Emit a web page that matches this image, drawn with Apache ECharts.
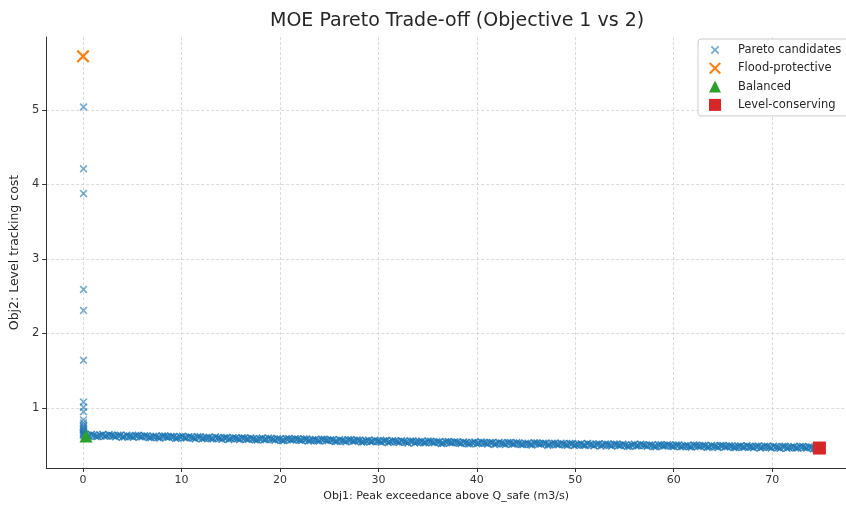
<!DOCTYPE html>
<html>
<head>
<meta charset="utf-8">
<script src="https://cdn.jsdelivr.net/npm/echarts@6/dist/echarts.min.js"></script>
<style>
html,body{margin:0;padding:0;background:#fff;}
#chart{width:846px;height:508px;}
</style>
</head>
<body>
<div id="chart"></div>
<script>
// ---------- data ----------
var titleText = 'MOE Pareto Trade-off (Objective 1 vs 2)';
var xLabel = 'Obj1: Peak exceedance above Q_safe (m3/s)';
var yLabel = 'Obj2: Level tracking cost';
var xTicks = [0, 10, 20, 30, 40, 50, 60, 70];
var yTicks = [1, 2, 3, 4, 5];
var legendNames = ['Pareto candidates', 'Flood-protective', 'Balanced', 'Level-conserving'];

// vertical cluster of candidates at Obj1 ~ 0
var clusterX = [0.05,0.05,0.05,0.05,0.05,0.05,0.05,0.05,0.05,0.05,0.05,0.05,0.05,0.05,0.05,0.05,0.05,0.05,0.05,0.05,0.05,0.05];
var clusterY = [5.04,4.21,3.88,2.59,2.31,1.64,1.08,1.01,0.95,0.84,0.80,0.77,0.75,0.73,0.71,0.70,0.68,0.67,0.66,0.65,0.64,0.63];

// main band of candidates (first pass)
var bandX = [0.2,0.6,1.1,1.5,2.0,2.4,2.9,3.3,3.8,4.2,4.7,5.1,5.6,6.0,6.5,6.9,7.4,7.8,8.3,8.7,9.2,9.6,
10.1,10.5,11.0,11.4,11.9,12.3,12.8,13.2,13.7,14.1,14.6,15.0,15.5,15.9,16.4,16.8,17.3,17.7,18.2,18.6,19.1,19.5,
20.0,20.4,20.9,21.3,21.8,22.2,22.7,23.1,23.6,24.0,24.5,24.9,25.4,25.8,26.3,26.7,27.2,27.6,28.1,28.5,29.0,29.4,29.9,
30.3,30.8,31.2,31.7,32.1,32.6,33.0,33.5,33.9,34.4,34.8,35.3,35.7,36.2,36.6,37.1,37.5,38.0,38.4,38.9,39.3,39.8,
40.2,40.7,41.1,41.6,42.0,42.5,42.9,43.4,43.8,44.3,44.7,45.2,45.6,46.1,46.5,47.0,47.4,47.9,48.3,48.8,49.2,49.7,
50.1,50.6,51.0,51.5,51.9,52.4,52.8,53.3,53.7,54.2,54.6,55.1,55.5,56.0,56.4,56.9,57.3,57.8,58.2,58.7,59.1,59.6,
60.0,60.5,60.9,61.4,61.8,62.3,62.7,63.2,63.6,64.1,64.5,65.0,65.4,65.9,66.3,66.8,67.2,67.7,68.1,68.6,69.0,69.5,69.9,
70.4,70.8,71.3,71.7,72.2,72.6,73.1,73.5,74.0,74.4];
var bandY = [0.646,0.623,0.636,0.617,0.644,0.625,0.634,0.613,0.635,0.615,0.623,0.607,0.632,0.612,0.625,0.603,0.619,0.597,0.623,0.607,0.617,0.597,
0.621,0.598,0.609,0.588,0.612,0.595,0.606,0.585,0.600,0.580,0.605,0.588,0.598,0.577,0.597,0.580,0.588,0.571,0.596,0.576,0.589,0.568,
0.584,0.562,0.588,0.573,0.583,0.563,0.584,0.564,0.576,0.555,0.579,0.562,0.573,0.552,0.567,0.547,0.573,0.556,0.566,0.545,0.566,0.549,0.556,
0.539,0.565,0.545,0.558,0.537,0.553,0.531,0.557,0.542,0.553,0.533,0.554,0.534,0.546,0.525,0.549,0.532,0.544,0.523,0.538,0.518,0.543,
0.527,0.537,0.516,0.537,0.520,0.528,0.511,0.537,0.517,0.530,0.510,0.526,0.504,0.530,0.515,0.526,0.506,0.527,0.507,0.519,0.499,0.523,
0.506,0.518,0.497,0.512,0.493,0.519,0.502,0.512,0.491,0.512,0.496,0.504,0.487,0.513,0.493,0.506,0.486,0.502,0.480,0.506,0.492,0.503,
0.483,0.504,0.484,0.497,0.476,0.500,0.483,0.496,0.475,0.490,0.470,0.496,0.480,0.490,0.469,0.490,0.474,0.482,0.465,0.491,0.472,0.485,0.464,
0.480,0.459,0.485,0.470,0.481,0.462,0.483,0.463,0.475,0.457];

// main band of candidates (second pass)
var band2X = [0.4,0.85,1.3,1.75,2.2,2.65,3.1,3.55,4.0,4.45,4.9,5.35,5.8,6.25,6.7,7.15,7.6,8.05,8.5,8.95,9.4,9.85,
10.3,10.75,11.2,11.65,12.1,12.55,13.0,13.45,13.9,14.35,14.8,15.25,15.7,16.15,16.6,17.05,17.5,17.95,18.4,18.85,19.3,19.75,
20.2,20.65,21.1,21.55,22.0,22.45,22.9,23.35,23.8,24.25,24.7,25.15,25.6,26.05,26.5,26.95,27.4,27.85,28.3,28.75,29.2,29.65,
30.1,30.55,31.0,31.45,31.9,32.35,32.8,33.25,33.7,34.15,34.6,35.05,35.5,35.95,36.4,36.85,37.3,37.75,38.2,38.65,39.1,39.55,
40.0,40.45,40.9,41.35,41.8,42.25,42.7,43.15,43.6,44.05,44.5,44.95,45.4,45.85,46.3,46.75,47.2,47.65,48.1,48.55,49.0,49.45,49.9,
50.35,50.8,51.25,51.7,52.15,52.6,53.05,53.5,53.95,54.4,54.85,55.3,55.75,56.2,56.65,57.1,57.55,58.0,58.45,58.9,59.35,59.8,
60.25,60.7,61.15,61.6,62.05,62.5,62.95,63.4,63.85,64.3,64.75,65.2,65.65,66.1,66.55,67.0,67.45,67.9,68.35,68.8,69.25,69.7,
70.15,70.6,71.05,71.5,71.95,72.4,72.85,73.3,73.75,74.2,74.65];
var band2Y = [0.628,0.643,0.618,0.634,0.619,0.641,0.624,0.632,0.608,0.632,0.616,0.631,0.612,0.627,0.602,0.618,0.603,0.625,0.608,0.616,0.592,0.615,
0.600,0.615,0.596,0.612,0.586,0.602,0.588,0.610,0.592,0.601,0.577,0.601,0.586,0.600,0.581,0.597,0.572,0.588,0.573,0.595,0.578,0.587,
0.563,0.586,0.571,0.586,0.567,0.583,0.558,0.574,0.559,0.581,0.564,0.573,0.549,0.573,0.558,0.573,0.554,0.569,0.544,0.560,0.546,0.568,
0.551,0.560,0.536,0.560,0.545,0.560,0.541,0.557,0.531,0.547,0.533,0.555,0.538,0.547,0.523,0.547,0.532,0.547,0.528,0.544,0.519,0.535,
0.521,0.543,0.526,0.535,0.511,0.536,0.521,0.536,0.517,0.533,0.508,0.524,0.510,0.532,0.515,0.525,0.501,0.525,0.510,0.525,0.506,0.522,0.497,
0.513,0.500,0.522,0.505,0.514,0.490,0.515,0.500,0.515,0.496,0.512,0.487,0.504,0.490,0.512,0.495,0.504,0.481,0.505,0.490,0.505,0.486,
0.503,0.478,0.494,0.480,0.503,0.486,0.495,0.471,0.495,0.481,0.496,0.477,0.493,0.469,0.485,0.471,0.493,0.476,0.485,0.462,0.486,0.471,
0.487,0.468,0.484,0.460,0.476,0.462,0.484,0.468,0.477,0.453,0.477];

var floodPoint = [0.0, 5.72];
var balancedPoint = [0.3, 0.625];
var levelPoint = [74.8, 0.462];

// ---------- build ----------
var clusterData = [];
for (var i = 0; i < clusterX.length; i++) clusterData.push([clusterX[i], clusterY[i]]);
var bandData = [];
for (var j = 0; j < bandX.length; j++) bandData.push([bandX[j], bandY[j]]);
for (var k = 0; k < band2X.length; k++) bandData.push([band2X[k], band2Y[k]]);

var xPath = 'path://M0,1.2L1.2,0L5,3.8L8.8,0L10,1.2L6.2,5L10,8.8L8.8,10L5,6.2L1.2,10L0,8.8L3.8,5Z';
var xPathThick = 'path://M0,1.5L1.5,0L5,3.5L8.5,0L10,1.5L6.5,5L10,8.5L8.5,10L5,6.5L1.5,10L0,8.5L3.5,5Z';
var xPathSmall = 'path://M-2,-2L-2,-2M12,12L12,12M0,1.5L1.5,0L5,3.5L8.5,0L10,1.5L6.5,5L10,8.5L8.5,10L5,6.5L1.5,10L0,8.5L3.5,5Z';
var font = 'DejaVu Sans';
var gridLine = {show: true, lineStyle: {color: '#d2d2d2', width: 0.8, type: [3, 2]}};

var chart = echarts.init(document.getElementById('chart'), null, {renderer: 'canvas'});
chart.setOption({
  animation: false,
  backgroundColor: '#ffffff',
  title: {
    text: titleText, left: 265, top: 7,
    textStyle: {fontFamily: font, fontSize: 19, fontWeight: 'normal', color: '#262626'}
  },
  grid: {left: 46, right: 0, top: 37, bottom: 40, containLabel: false},
  legend: {
    orient: 'vertical', left: 698, top: 39,
    padding: [5, 8, 5, 11],
    itemWidth: 12, itemHeight: 12, itemGap: 6.3,
    backgroundColor: '#ffffff', borderColor: '#cccccc', borderWidth: 1, borderRadius: 3,
    textStyle: {fontFamily: font, fontSize: 11.5, color: '#262626', padding: [0, 0, 0, 12]},
    data: [
      {name: legendNames[0], icon: xPathSmall, itemStyle: {color: 'rgba(31,119,180,0.6)', opacity: 1}},
      {name: legendNames[1], icon: xPath, itemStyle: {opacity: 1}},
      {name: legendNames[2], icon: 'triangle', itemStyle: {opacity: 1}},
      {name: legendNames[3], icon: 'rect', itemStyle: {opacity: 1}}
    ]
  },
  xAxis: {
    type: 'value', min: -3.74, max: 77.5,
    name: xLabel, nameLocation: 'middle', nameGap: 21,
    nameTextStyle: {fontFamily: font, fontSize: 11, color: '#262626'},
    axisLine: {show: true, onZero: false, lineStyle: {color: '#333333', width: 1}},
    axisTick: {show: true, customValues: xTicks, length: 4, lineStyle: {color: '#333333'}},
    axisLabel: {customValues: xTicks, fontFamily: font, fontSize: 11, color: '#333333', margin: 7},
    splitLine: gridLine
  },
  yAxis: {
    type: 'value', min: 0.194, max: 5.98,
    name: yLabel, nameLocation: 'middle', nameGap: 20, nameRotate: 90,
    nameTextStyle: {fontFamily: font, fontSize: 12.5, color: '#262626'},
    axisLine: {show: true, onZero: false, lineStyle: {color: '#333333', width: 1}},
    axisTick: {show: true, customValues: yTicks, length: 4, lineStyle: {color: '#333333'}},
    axisLabel: {customValues: yTicks, fontFamily: font, fontSize: 11.5, color: '#333333', margin: 7},
    splitLine: gridLine
  },
  series: [
    {
      name: legendNames[0], type: 'scatter', data: clusterData,
      symbol: xPathThick, symbolSize: 8, z: 2,
      itemStyle: {color: 'rgba(31,119,180,0.6)', opacity: 1}
    },
    {
      name: legendNames[0], type: 'scatter', data: bandData,
      symbol: xPathThick, symbolSize: 8, z: 2,
      itemStyle: {color: 'rgba(31,119,180,0.85)', opacity: 1}
    },
    {
      name: legendNames[1], type: 'scatter', data: [floodPoint],
      symbol: xPath, symbolSize: 13, z: 3,
      itemStyle: {color: '#ff7f0e', opacity: 1}
    },
    {
      name: legendNames[2], type: 'scatter', data: [balancedPoint],
      symbol: 'triangle', symbolSize: 13, z: 3,
      itemStyle: {color: '#2ca02c', opacity: 1}
    },
    {
      name: legendNames[3], type: 'scatter', data: [levelPoint],
      symbol: 'rect', symbolSize: 13, z: 3,
      itemStyle: {color: '#d62728', opacity: 1}
    }
  ]
});
</script>
</body>
</html>
